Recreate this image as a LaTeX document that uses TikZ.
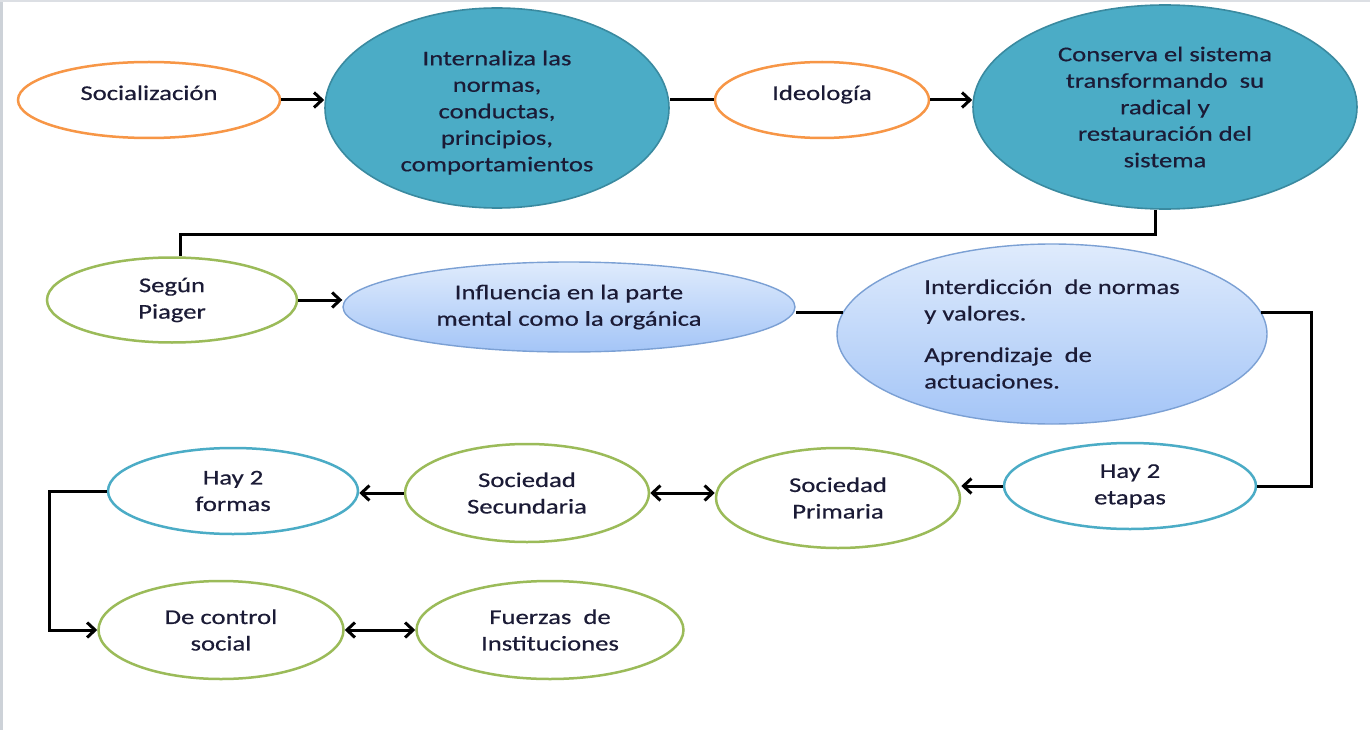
\documentclass[tikz,border=0pt]{standalone}
\usepackage{fontspec}
\setmainfont{Carlito}[FakeStretch=1.27,FakeBold=0.5]
\usetikzlibrary{arrows.meta,shapes.geometric}
\definecolor{txtc}{HTML}{1B1B36}
\definecolor{orngc}{HTML}{F79646}
\definecolor{grnc}{HTML}{9BBB59}
\definecolor{bluec}{HTML}{4BACC6}
\definecolor{tealfill}{HTML}{4BACC6}
\definecolor{tealline}{HTML}{3A8AA0}
\definecolor{lbtop}{HTML}{DFEBFC}
\definecolor{lbbot}{HTML}{A4C5F7}
\definecolor{lbline}{HTML}{7BA0D4}
\definecolor{framec}{HTML}{CDD2D8}
\begin{document}
\begin{tikzpicture}[x=1pt,y=-1pt,
  every node/.style={font=\fontsize{21}{26.5}\selectfont, text=txtc, inner sep=1pt},
  ell/.style={ellipse, align=center},
  ovalorange/.style={ell, draw=orngc, line width=2.5pt, fill=white},
  ovalgreen/.style={ell, draw=grnc, line width=2.5pt, fill=white},
  ovalblue/.style={ell, draw=bluec, line width=2.5pt, fill=white},
  ovalteal/.style={ell, draw=tealline, line width=1.6pt, fill=tealfill},
  ovallight/.style={ell, draw=lbline, line width=1.4pt, top color=lbtop, bottom color=lbbot},
  raise/.style={text height=14pt, text depth=14pt},
  conn/.style={draw=black, line width=3pt},
  arr/.style={conn, -{Straight Barb[length=8pt,width=15pt]}},
  darr/.style={conn, {Straight Barb[length=8pt,width=15pt]}-{Straight Barb[length=8pt,width=15pt]}}
]
\useasboundingbox (0,0) rectangle (1370,730);
\fill[white] (0,0) rectangle (1370,730);
\draw[framec, line width=3pt] (1.5,0) -- (1.5,730);
\draw[framec!70, line width=2pt] (0,1) -- (1370,1);

% row 1
\node[ovalorange, raise, minimum width=262, minimum height=76] (soc) at (149,100) {Socialización};
\node[ovalteal, text height=130pt, minimum width=344, minimum height=200] (int) at (497,108)
  {Internaliza las\\normas,\\conductas,\\principios,\\comportamientos};
\node[ovalorange, raise, minimum width=214, minimum height=76] (ideo) at (822,100) {Ideología};
\node[ovalteal, minimum width=384, minimum height=204] (cons) at (1165,107)
  {Conserva el sistema\\transformando\ \ su\\radical y\\restauración del\\sistema};

% row 2
\node[ovalgreen, minimum width=250, minimum height=85] (pia) at (172,300) {Según\\Piager};
\node[ovallight, minimum width=452, minimum height=90] (inf) at (569,307)
  {Influencia en la parte\\mental como la orgánica};
\node[ovallight, align=left, minimum width=430, minimum height=180] (idc) at (1052,334)
  {Interdicción\ \ de normas\\y valores.\\[15pt]Aprendizaje\ \ de\\actuaciones.};

% row 3
\node[ovalblue, minimum width=252, minimum height=86] (et2) at (1130,486) {Hay 2\\etapas};
\node[ovalgreen, minimum width=244, minimum height=100] (pri) at (838,498) {Sociedad\\Primaria};
\node[ovalgreen, minimum width=244, minimum height=98] (sec) at (527,493) {Sociedad\\Secundaria};
\node[ovalblue, minimum width=250, minimum height=86] (fo2) at (233,491) {Hay 2\\formas};

% row 4
\node[ovalgreen, minimum width=245, minimum height=98] (ctl) at (221,630) {De control\\social};
\node[ovalgreen, minimum width=267, minimum height=98] (fue) at (550,630) {Fuerzas\ \ de\\Instituciones};

% connectors
\draw[arr] (soc.east) -- (soc.east -| int.west);
\draw[conn] (ideo.west) -- (ideo.west -| int.east);
\draw[arr] (ideo.east) -- (ideo.east -| cons.west);
\draw[conn] ([xshift=-10pt]cons.south) -- ++(0,25) -| ([xshift=8pt]pia.north);
\draw[arr] (pia.east) -- (pia.east -| inf.west);
\draw[conn] (idc.174) -- (idc.174 -| inf.east);
\draw[conn] (idc.6) -- ++(50,0) |- (et2.east);
\draw[arr] (et2.west) -- (et2.west -| pri.east);
\draw[darr] (sec.east) -- (sec.east -| pri.west);
\draw[arr] (sec.west) -- (sec.west -| fo2.east);
\draw[arr] (fo2.west) -- ++(-57,0) |- (ctl.west);
\draw[darr] (ctl.east) -- (fue.west);
\end{tikzpicture}
\end{document}
